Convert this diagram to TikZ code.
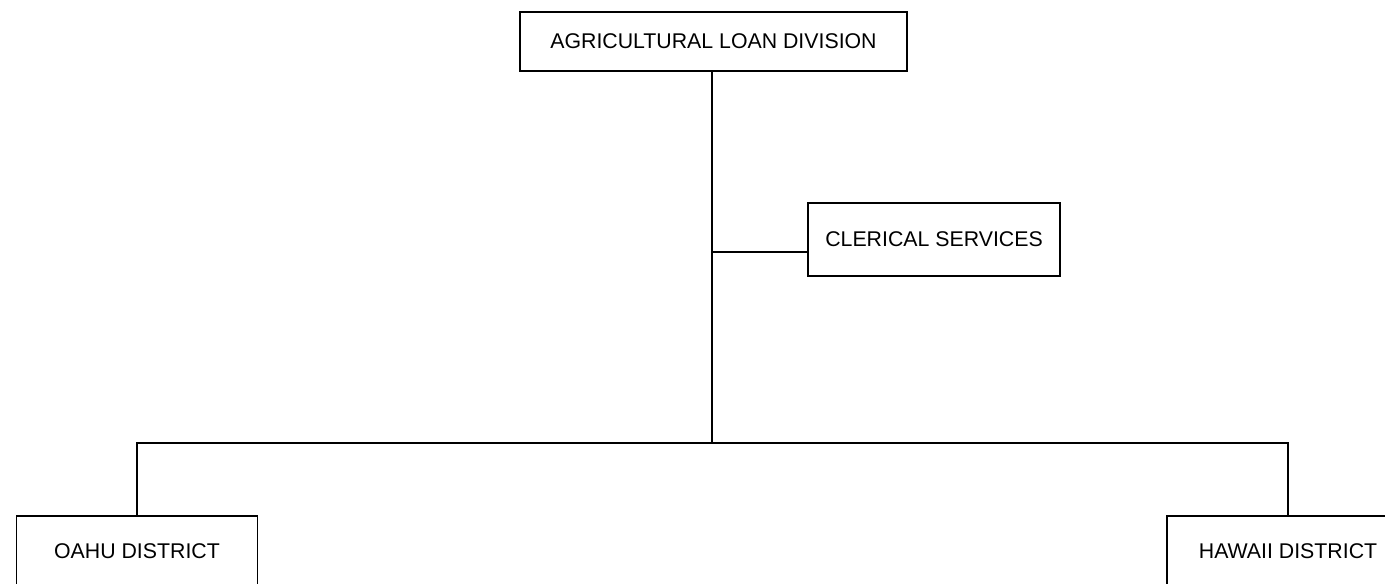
\documentclass[tikz,border=0pt]{standalone}
\usepackage{fontspec}
\setmainfont{Liberation Sans}
\usepackage{tikz}

\tikzset{
  unit/.style={draw, line width=0.8pt, inner sep=0pt, align=center,
    font=\fontsize{10.65}{12.8}\selectfont},
  link/.style={line width=0.8pt}
}

\begin{document}
\begin{tikzpicture}[x=0.5pt, y=-0.5pt]
  \clip (0,0) rectangle (1385,583); % page frame
  \node[unit, minimum width=193.5pt, minimum height=29.5pt] (div) at (713.5,41.5) {AGRICULTURAL LOAN DIVISION}; %
  \node[unit, minimum width=126pt, minimum height=36.5pt] (cler) at (934,239.5) {CLERICAL SERVICES}; %
  \node[unit, minimum width=120.5pt, minimum height=35pt] (oahu) at (137,551) {OAHU DISTRICT}; %
  \node[unit, minimum width=121pt, minimum height=35pt] (hawaii) at (1288,551) {HAWAII DISTRICT}; %

  \coordinate (hub) at (712,443); %
  \coordinate (tap) at (712,252); %

  \draw[link] (hub |- div.south) -- (hub); %
  \draw[link] (tap) -- (tap -| cler.west); %
  \draw[link] (oahu.north) |- (hub) -| (hawaii.north); %
\end{tikzpicture}
\end{document}
